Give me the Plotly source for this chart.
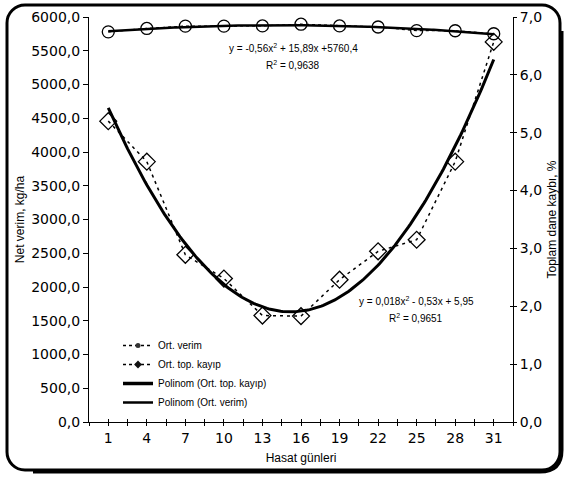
import urllib.parse
import numpy as np
import plotly.graph_objects as go

# ---------------- data ----------------
days = [1, 4, 7, 10, 13, 16, 19, 22, 25, 28, 31]
ort_verim = [5780, 5830, 5865, 5865, 5868, 5893, 5868, 5852, 5798, 5796, 5752]   # kg/ha (left axis)
ort_kayip = [5.20, 4.50, 2.89, 2.48, 1.84, 1.83, 2.46, 2.95, 3.15, 4.50, 6.57]    # % (right axis)

series_names = ["Ort. verim", "Ort. top. kayıp", "Polinom (Ort. top. kayıp)", "Polinom (Ort. verim)"]
eq_verim = ["y = -0,56x<sup>2</sup> + 15,89x +5760,4", "R<sup>2</sup> = 0,9638"]
eq_kayip = ["y = 0,018x<sup>2</sup> - 0,53x + 5,95", "R<sup>2</sup> = 0,9651"]

left_ticks = [0, 500, 1000, 1500, 2000, 2500, 3000, 3500, 4000, 4500, 5000, 5500, 6000]
right_ticks = [0, 1, 2, 3, 4, 5, 6, 7]

# ---------------- trendlines (2nd order polynomial fit, like Excel) ----------------
xs = np.linspace(min(days), max(days), 200)
fit_v = np.polyval(np.polyfit(days, ort_verim, 2), xs)
fit_k = np.polyval(np.polyfit(days, ort_kayip, 2), xs)

# ---------------- layout geometry ----------------
W, H = 565, 477
L, R, T, B = 89, 513, 17, 422


def px(X):
    return (X - L) / (R - L)


def py(Y):
    return (B - Y) / (B - T)


FONT_T = "DejaVu Sans"
FONT_S = "Liberation Sans, Arial"

fig = go.Figure()

# data series
fig.add_trace(go.Scatter(
    x=days, y=ort_verim, mode="lines+markers", name=series_names[0], showlegend=False,
    line=dict(color="black", width=1.3, dash="dot"),
    marker=dict(symbol="circle-open", size=12, color="black", line=dict(width=1.3)),
    yaxis="y"))
fig.add_trace(go.Scatter(
    x=days, y=ort_kayip, mode="lines+markers", name=series_names[1], showlegend=False,
    line=dict(color="black", width=1.5, dash="3px,4px"),
    marker=dict(symbol="diamond-open", size=13, color="black", line=dict(width=1.3)),
    yaxis="y2"))
# trendlines
fig.add_trace(go.Scatter(
    x=xs, y=fit_k, mode="lines", name=series_names[2], showlegend=False,
    line=dict(color="black", width=3), yaxis="y2"))
fig.add_trace(go.Scatter(
    x=xs, y=fit_v, mode="lines", name=series_names[3], showlegend=False,
    line=dict(color="black", width=2.5), yaxis="y"))

# legend entries (small filled markers as in the original legend)
fig.add_trace(go.Scatter(x=[None], y=[None], mode="lines+markers", name=series_names[0],
                         line=dict(color="black", width=1.3, dash="dot"),
                         marker=dict(symbol="circle", size=5, color="#333")))
fig.add_trace(go.Scatter(x=[None], y=[None], mode="lines+markers", name=series_names[1],
                         line=dict(color="black", width=1.3, dash="dot"),
                         marker=dict(symbol="diamond", size=6, color="#111")))
fig.add_trace(go.Scatter(x=[None], y=[None], mode="lines", name=series_names[2],
                         line=dict(color="black", width=3.5)))
fig.add_trace(go.Scatter(x=[None], y=[None], mode="lines", name=series_names[3],
                         line=dict(color="black", width=2.5)))

# x ticks: boundaries + category centers
xtv = list(np.arange(days[0] - 1.5, days[-1] + 1.6, 1.5))
xtt = [str(int(round(v))) if any(abs(v - d) < 1e-6 for d in days) else "" for v in xtv]

# overlay axes to produce crossing ticks
fig.add_trace(go.Scatter(x=[None], y=[None], xaxis="x2", yaxis="y3", showlegend=False, hoverinfo="skip"))

# ---------------- rounded frame (decoration, drawn as an SVG image) ----------------
FX0, FY0, FX1, FY1, RAD = 7, 5, 560, 470, 22
frame_svg = (
    f"<svg xmlns='http://www.w3.org/2000/svg' width='{W}' height='{H}' viewBox='0 0 {W} {H}'>"
    f"<path d='M {FX1 + 2} {FY0 + RAD + 4} L {FX1 + 2} {FY1 - RAD + 2} Q {FX1 + 2} {FY1 + 2} {FX1 - RAD + 2} {FY1 + 2} "
    f"L {FX0 + RAD + 4} {FY1 + 2}' fill='none' stroke='black' stroke-width='3'/>"
    f"<rect x='{FX0}' y='{FY0}' width='{FX1 - FX0}' height='{FY1 - FY0}' rx='{RAD - 4}' ry='{RAD - 4}' "
    f"fill='none' stroke='black' stroke-width='3'/></svg>"
)
frame_uri = "data:image/svg+xml;charset=utf-8," + urllib.parse.quote(frame_svg)

images = [dict(source=frame_uri, xref="paper", yref="paper",
               x=px(0), y=py(H), sizex=W / (R - L), sizey=H / (B - T),
               xanchor="left", yanchor="bottom", sizing="stretch", layer="below")]

annotations = []
for txt, xc, yc in [(eq_verim[0], 293, 48), (eq_verim[1], 293, 65),
                    (eq_kayip[0], 416, 301), (eq_kayip[1], 416, 318)]:
    annotations.append(dict(x=px(xc), y=py(yc), xref="paper", yref="paper", text=txt, showarrow=False,
                            xanchor="center", yanchor="middle",
                            font=dict(family=FONT_S, size=10, color="black")))

fig.update_layout(
    template="none",
    width=W, height=H,
    margin=dict(l=L, r=W - R, t=T, b=H - B, autoexpand=False),
    paper_bgcolor="white", plot_bgcolor="rgba(0,0,0,0)",
    separators=",.",
    showlegend=True,
    legend=dict(x=px(118), y=py(331), xanchor="left", yanchor="top",
                font=dict(family=FONT_S, size=10, color="black"),
                bgcolor="rgba(0,0,0,0)", tracegroupgap=0, itemwidth=30),
    xaxis=dict(range=[days[0] - 1.5, days[-1] + 1.5], tickmode="array", tickvals=xtv, ticktext=xtt,
               ticks="outside", ticklen=3, tickcolor="black", tickwidth=1, automargin=False,
               showline=True, linecolor="black", linewidth=1, showgrid=False, zeroline=False,
               tickfont=dict(family=FONT_T, size=14, color="black"),
               title=dict(text="Hasat günleri", font=dict(family=FONT_S, size=12, color="black"), standoff=8)),
    yaxis=dict(range=[0, 6000], tickmode="array", tickvals=left_ticks, tickformat=".1f",
               ticks="outside", ticklen=5, tickcolor="black", automargin=False,
               showline=True, linecolor="black", linewidth=1, showgrid=False, zeroline=False,
               tickfont=dict(family=FONT_T, size=14, color="black"),
               title=dict(text="Net verim, kg/ha", font=dict(family=FONT_S, size=12, color="black"), standoff=4)),
    yaxis2=dict(range=[0, 7], overlaying="y", side="right", tickmode="array", tickvals=right_ticks,
                tickformat=".1f", ticks="outside", ticklen=3, tickcolor="black", automargin=False,
                showline=True, linecolor="black", linewidth=1, showgrid=False, zeroline=False,
                tickfont=dict(family=FONT_T, size=14, color="black"),
                title=dict(text="Toplam dane kaybı, %", font=dict(family=FONT_S, size=12, color="black"), standoff=6)),
    xaxis2=dict(range=[days[0] - 1.5, days[-1] + 1.5], overlaying="x", anchor="y3", tickmode="array",
                tickvals=xtv, ticks="inside", ticklen=3, tickcolor="black", showticklabels=False,
                automargin=False, showline=False, showgrid=False, zeroline=False),
    yaxis3=dict(range=[0, 7], overlaying="y", side="right", anchor="x2", tickmode="array", tickvals=right_ticks,
                ticks="inside", ticklen=3, tickcolor="black", showticklabels=False,
                automargin=False, showline=False, showgrid=False, zeroline=False),
    images=images,
    annotations=annotations,
)

fig.write_html("out.html", config={"displayModeBar": False},
               post_script="document.body.style.margin='0';document.body.style.overflow='hidden';")
